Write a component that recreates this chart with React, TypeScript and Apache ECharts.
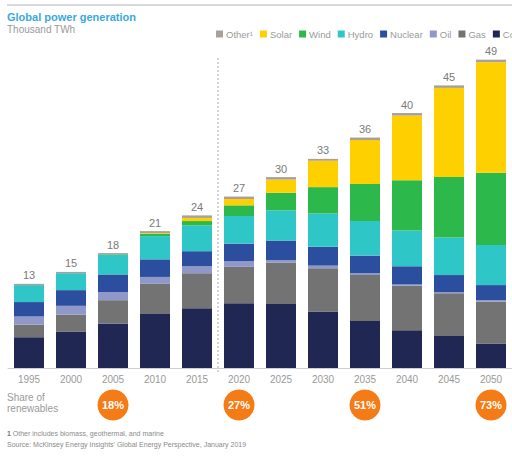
import React, { useEffect, useRef } from 'react';
import * as echarts from 'echarts';

const years = ['1995', '2000', '2005', '2010', '2015', '2020', '2025', '2030', '2035', '2040', '2045', '2050'];
const coal = [4.9, 5.8, 7.1, 8.6, 9.5, 10.3, 10.2, 9.0, 7.5, 6.0, 5.1, 3.9];
const gas = [2.0, 2.7, 3.7, 4.8, 5.6, 5.8, 6.6, 6.9, 7.3, 7.1, 6.8, 6.7];
const oil = [1.3, 1.4, 1.3, 1.1, 1.1, 0.9, 0.4, 0.4, 0.3, 0.2, 0.2, 0.2];
const nuclear = [2.3, 2.5, 2.8, 2.8, 2.4, 2.8, 3.1, 3.0, 2.8, 2.9, 2.7, 2.4];
const hydro = [2.7, 2.7, 3.1, 3.7, 4.1, 4.4, 4.8, 5.3, 5.5, 5.7, 6.0, 6.4];
const wind = [0, 0, 0.1, 0.4, 0.7, 1.7, 2.8, 4.2, 5.9, 8.0, 9.6, 11.5];
const solar = [0, 0, 0, 0.1, 0.5, 1.0, 2.1, 4.2, 7.0, 10.3, 14.2, 17.6];
const other = [0.2, 0.2, 0.2, 0.3, 0.4, 0.4, 0.4, 0.3, 0.4, 0.4, 0.4, 0.4];
const totalLabels = ['13', '15', '18', '21', '24', '27', '30', '33', '36', '40', '45', '49'];
const renewableShare: (number | null)[] = [null, null, 18, null, null, 27, null, null, 51, null, null, 73];

const FONT = '"Liberation Sans", Arial, sans-serif';

export default function App() {
  const ref = useRef<HTMLDivElement>(null);
  useEffect(() => {
    if (!ref.current) return;
    const chart = echarts.init(ref.current, null, { renderer: 'svg' });
    const mk = (name: string, data: number[], color: string, extra: any = {}) => ({
      name,
      type: 'bar',
      stack: 'total',
      data,
      barWidth: 30,
      itemStyle: { color },
      xAxisIndex: 0,
      yAxisIndex: 0,
      ...extra,
    });
    chart.setOption({
      animation: false,
      textStyle: { fontFamily: FONT },
      grid: [
        { left: 8, right: 0, top: 54, bottom: 88 },
        { left: 8, right: 0, top: 390, height: 30 },
      ],
      legend: {
        left: 211,
        top: 24,
        width: 400,
        icon: 'rect',
        itemWidth: 7,
        itemHeight: 7,
        itemGap: 7,
        textStyle: { fontSize: 9.5, color: '#9a9a9a', fontFamily: FONT, padding: [0, 0, 0, -2] },
        data: ['Other¹', 'Solar', 'Wind', 'Hydro', 'Nuclear', 'Oil', 'Gas', 'Coal'],
      },
      xAxis: [
        {
          type: 'category',
          data: years,
          gridIndex: 0,
          axisLine: { lineStyle: { color: '#cfcfcf', width: 1 } },
          axisTick: { show: false },
          axisLabel: { color: '#999', fontSize: 10, margin: 6 },
        },
        { type: 'category', data: years, gridIndex: 1, show: false },
      ],
      yAxis: [
        { type: 'value', min: 0, max: 50, gridIndex: 0, show: false, splitLine: { show: false } },
        { type: 'value', min: -1, max: 1, gridIndex: 1, show: false, splitLine: { show: false } },
      ],
      series: [
        mk('Coal', coal, '#1f2752'),
        mk('Gas', gas, '#737373'),
        mk('Oil', oil, '#8f98c9'),
        mk('Nuclear', nuclear, '#2b4f9e'),
        mk('Hydro', hydro, '#2fc6c8'),
        mk('Wind', wind, '#2db84b'),
        mk('Solar', solar, '#ffd000'),
        mk('Other¹', other, '#aaa097', {
          label: {
            show: true,
            position: 'top',
            distance: 3,
            color: '#7a7a7a',
            fontSize: 11,
            formatter: (p: any) => totalLabels[p.dataIndex],
          },
        }),
        {
          type: 'scatter',
          xAxisIndex: 1,
          yAxisIndex: 1,
          symbol: 'circle',
          symbolSize: 31,
          itemStyle: { color: '#f47b16', opacity: 1 },
          data: renewableShare.map((v) => (v === null ? '-' : 0)),
          label: {
            show: true,
            position: 'inside',
            color: '#fff',
            fontWeight: 'bold',
            fontSize: 11,
            formatter: (p: any) => `${renewableShare[p.dataIndex]}%`,
          },
          silent: true,
        },
      ],
      graphic: [
        { type: 'line', shape: { x1: 7, y1: 5, x2: 512, y2: 5 }, style: { stroke: '#cccccc', lineWidth: 1.5 } },
        {
          type: 'text',
          left: 7,
          top: 11,
          style: { text: 'Global power generation', fill: '#3aa8dc', fontSize: 11, fontWeight: 'bold', fontFamily: FONT },
        },
        {
          type: 'text',
          left: 7,
          top: 24,
          style: { text: 'Thousand TWh', fill: '#9a9a9a', fontSize: 10, fontFamily: FONT },
        },
        {
          type: 'line',
          shape: { x1: 218, y1: 58, x2: 218, y2: 374 },
          style: { stroke: '#aaaaaa', lineWidth: 1, lineDash: [2, 2] },
        },
        {
          type: 'text',
          left: 7,
          top: 392,
          style: { text: 'Share of\nrenewables', fill: '#9a9a9a', fontSize: 10, lineHeight: 11, fontFamily: FONT },
        },
        {
          type: 'text',
          left: 7,
          top: 430,
          style: {
            text: '{b|1} Other includes biomass, geothermal, and marine',
            rich: { b: { fontWeight: 'bold', fill: '#777', fontSize: 7 } },
            fill: '#8a8a8a',
            fontSize: 7,
            fontFamily: FONT,
          },
        },
        {
          type: 'text',
          left: 7,
          top: 441,
          style: {
            text: "Source: McKinsey Energy Insights' Global Energy Perspective, January 2019",
            fill: '#8a8a8a',
            fontSize: 7,
            fontFamily: FONT,
          },
        },
      ],
    });
    return () => chart.dispose();
  }, []);
  return (
    <div
      ref={ref}
      style={{ position: 'fixed', left: 0, top: 0, width: 512, height: 456, background: '#fff' }}
    />
  );
}
